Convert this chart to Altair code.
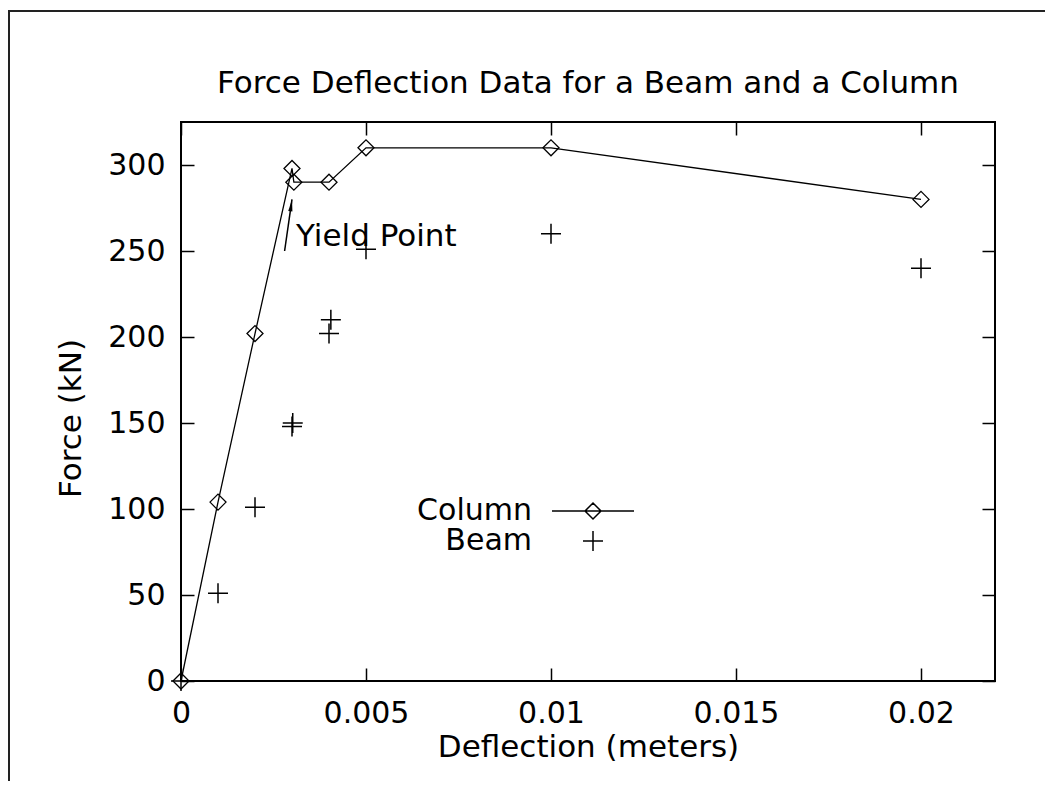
import altair as alt
import pandas as pd

# ---- data ----
col_x = [0, 0.001, 0.002, 0.003, 0.00305, 0.004, 0.005, 0.01, 0.02]
col_y = [0, 104, 202, 298, 290, 290, 310, 310, 280]
beam_x = [0, 0.001, 0.002, 0.003, 0.00302, 0.004, 0.00405, 0.005, 0.01, 0.02]
beam_y = [0, 51, 101, 148, 150, 202, 210, 251, 260, 240]
x_ticks = [0, 0.005, 0.01, 0.015, 0.02]
y_ticks = [0, 50, 100, 150, 200, 250, 300]
series_names = ["Column", "Beam"]
title_text = "Force Deflection Data for a Beam and a Column"
x_title = "Deflection (meters)"
y_title = "Force (kN)"
label_text = ["Yield Point"]
label_x = [0.003]
label_y = [258]
arrow_x = [0.0028]
arrow_y = [250]
arrow_x2 = [0.003]
arrow_y2 = [280]

col_df = pd.DataFrame({"x": col_x, "y": col_y, "series": "Column"})
beam_df = pd.DataFrame({"x": beam_x, "y": beam_y, "series": "Beam"})
label_df = pd.DataFrame({"x": label_x, "y": label_y, "text": label_text})
arrow_df = pd.DataFrame({"x": arrow_x, "y": arrow_y, "x2": arrow_x2, "y2": arrow_y2})
frame_df = pd.DataFrame({"k": [0]})

FONT = "DejaVu Sans"
INWARD = alt.ExprRef(expr="-13")

xs = alt.Scale(domain=[0, 0.022], nice=False, zero=False)
ys = alt.Scale(domain=[0, 325], nice=False, zero=False)

bottom_axis = alt.Axis(
    orient="bottom", values=x_ticks, format="~g", labelFont=FONT, labelFontSize=30,
    labelColor="black", labelPadding=30, labelOverlap=False, labelFlush=False,
    tickSize=INWARD, tickColor="black", tickWidth=1.5, domain=False, grid=False,
    title=x_title, titleFont=FONT, titleFontSize=31, titleFontWeight="normal",
    titleColor="black", titleY=66, titleBaseline="middle",
)
left_axis = alt.Axis(
    orient="left", values=y_ticks, format="d", labelFont=FONT, labelFontSize=30,
    labelColor="black", labelPadding=29, labelOverlap=False, labelFlush=False,
    tickSize=INWARD, tickColor="black", tickWidth=1.5, domain=False, grid=False,
    title=y_title, titleFont=FONT, titleFontSize=31, titleFontWeight="normal",
    titleColor="black", titleX=-110, titleY=296, titleAlign="center",
    titleBaseline="middle",
)
top_axis = alt.Axis(
    orient="top", values=x_ticks, labels=False, domain=False, grid=False,
    tickSize=INWARD, tickColor="black", tickWidth=1.5, title=None,
)
right_axis = alt.Axis(
    orient="right", values=y_ticks, labels=False, domain=False, grid=False,
    tickSize=INWARD, tickColor="black", tickWidth=1.5, title=None,
)

col_path = "M-4.1,0H4.1M-0.8,0L0,-0.8L0.8,0L0,0.8Z"
beam_path = "M-1,0H1M0,-1V1"

line = alt.Chart(col_df).mark_line(color="black", strokeWidth=1.3).encode(
    x=alt.X("x:Q", scale=xs, axis=bottom_axis),
    y=alt.Y("y:Q", scale=ys, axis=left_axis),
)
col_pts = alt.Chart(col_df).mark_point(
    shape="diamond", size=256, filled=False, color="black", strokeWidth=1.3, opacity=1
).encode(
    x=alt.X("x:Q", scale=xs, axis=None),
    y=alt.Y("y:Q", scale=ys, axis=None),
)
beam_pts = alt.Chart(beam_df).mark_point(
    filled=False, color="black", size=400, strokeWidth=1.5, opacity=1
).encode(
    x=alt.X("x:Q", scale=xs, axis=top_axis),
    y=alt.Y("y:Q", scale=ys, axis=right_axis),
    shape=alt.Shape(
        "series:N",
        scale=alt.Scale(domain=series_names, range=[col_path, beam_path]),
        legend=alt.Legend(
            orient="none", legendX=397, legendY=374, title=None, padding=0,
            labelFont=FONT, labelFontSize=30, labelColor="black", labelAlign="right",
            labelBaseline="middle", labelOffset=alt.ExprRef(expr="-76"), symbolSize=400,
            symbolStrokeWidth=1.5, symbolStrokeColor="black",
            symbolFillColor="transparent", symbolOpacity=1, rowPadding=0,
        ),
    ),
)
arrow = alt.Chart(arrow_df).mark_rule(color="black", strokeWidth=1.5).encode(
    x=alt.X("x:Q", scale=xs, axis=None),
    y=alt.Y("y:Q", scale=ys, axis=None),
    x2="x2:Q",
    y2="y2:Q",
)
head = alt.Chart(arrow_df).mark_point(
    shape="M0,0L-0.7,4L0.7,4Z", size=36, filled=True, color="black", opacity=1, angle=8
).encode(
    x=alt.X("x2:Q", scale=xs, axis=None),
    y=alt.Y("y2:Q", scale=ys, axis=None),
)
label = alt.Chart(label_df).mark_text(
    align="left", baseline="middle", font=FONT, fontSize=31, color="black", dx=4
).encode(
    x=alt.X("x:Q", scale=xs, axis=None),
    y=alt.Y("y:Q", scale=ys, axis=None),
    text="text:N",
)

# page frame seen in the reference screenshot (top and left border lines)
frame_top = alt.Chart(frame_df).mark_rule(color="#222222", strokeWidth=2).encode(
    x=alt.value(-173), x2=alt.value(864), y=alt.value(-111)
)
frame_left = alt.Chart(frame_df).mark_rule(color="#222222", strokeWidth=2).encode(
    x=alt.value(-172), y=alt.value(-111), y2=alt.value(660)
)

chart = alt.layer(
    line, col_pts, beam_pts, arrow, head, label, frame_top, frame_left
).properties(
    width=814,
    height=559,
    title=alt.TitleParams(
        title_text, font=FONT, fontSize=31, fontWeight="normal", color="black",
        anchor="middle", offset=21, dy=111,
    ),
    autosize=alt.AutoSizeParams(type="none"),
    padding={"left": 173, "top": 114, "right": 50, "bottom": 100},
    background="white",
).configure_view(stroke="black", strokeWidth=2)

chart.save("out.html", embed_options={"renderer": "svg", "actions": False})
